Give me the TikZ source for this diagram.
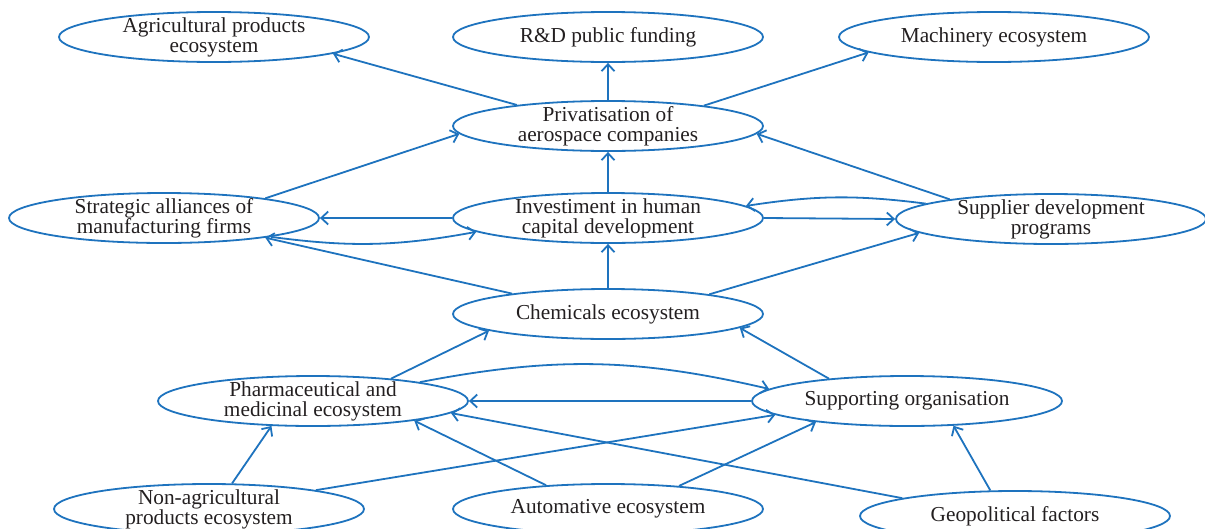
\documentclass[tikz,border=0pt]{standalone}
\usepackage{fontspec}
\setmainfont{Liberation Serif}
\usetikzlibrary{shapes.geometric}
\usetikzlibrary{arrows.meta}
\definecolor{flowblue}{RGB}{30,115,190}
\definecolor{inktext}{RGB}{35,31,32}

\begin{document}
\begin{tikzpicture}[x=1pt,y=-1pt,
  eco/.style={ellipse,draw=flowblue,line width=1.8pt,minimum width=310pt,minimum height=50pt,
    inner xsep=0pt,inner ysep=-6pt,align=center,text=inktext,font=\fontsize{21.3}{20}\selectfont},
  link/.style={draw=flowblue,line width=1.8pt,-{Straight Barb[length=7pt,width=13pt]}}]
\useasboundingbox (0,0) rectangle (1205,528);

\node[eco] (agri) at (214,37) {Agricultural products\\ecosystem};
\node[eco] (rnd) at (608,37) {R\&D public funding};
\node[eco] (mach) at (994,37) {Machinery ecosystem};
\node[eco] (priv) at (608,126) {Privatisation of\\aerospace companies};
\node[eco] (alli) at (164,218) {Strategic alliances of\\manufacturing firms};
\node[eco] (human) at (608,218) {Investiment in human\\capital development};
\node[eco] (supp) at (1051,219) {Supplier development\\programs};
\node[eco] (chem) at (608,314) {Chemicals ecosystem};
\node[eco] (pharma) at (313,401) {Pharmaceutical and\\medicinal ecosystem};
\node[eco] (suporg) at (907,401) {Supporting organisation};
\node[eco] (nonagri) at (209,509) {Non-agricultural\\products ecosystem};
\node[eco] (auto) at (608,509) {Automative ecosystem};
\node[eco] (geo) at (1015,516) {Geopolitical factors};

\draw[link] (priv.167) -- (agri.-8);
\draw[link] (priv.north) -- (rnd.south);
\draw[link] (priv.12) -- (mach.-173);
\draw[link] (alli.11) -- (priv.-177);
\draw[link] (human.north) -- (priv.south);
\draw[link] (supp.169) -- (priv.-3);

\draw[link] (human.west) -- (alli.east);
\draw[link] (alli.-10) to[bend right=9] (human.-174);
\draw[link] (human.east) -- (supp.west);
\draw[link] (supp.173) to[bend right=8] (human.5);

\draw[link] (chem.168) -- (alli.-11);
\draw[link] (chem.north) -- (human.south);
\draw[link] (chem.11) -- (supp.-174);

\draw[link] (pharma.16) -- (chem.-172);
\draw[link] (suporg.164) -- (chem.-6);
\draw[link] (pharma.10) to[bend left=12] (suporg.175);
\draw[link] (suporg.west) -- (pharma.east);

\draw[link] (nonagri.48) -- (pharma.-149);
\draw[link] (nonagri.10) -- (suporg.-174);
\draw[link] (auto.159) -- (pharma.-11);
\draw[link] (auto.18) -- (suporg.-167);
\draw[link] (geo.171) -- (pharma.-5);
\draw[link] (geo.134) -- (suporg.-28);
\end{tikzpicture}
\end{document}
